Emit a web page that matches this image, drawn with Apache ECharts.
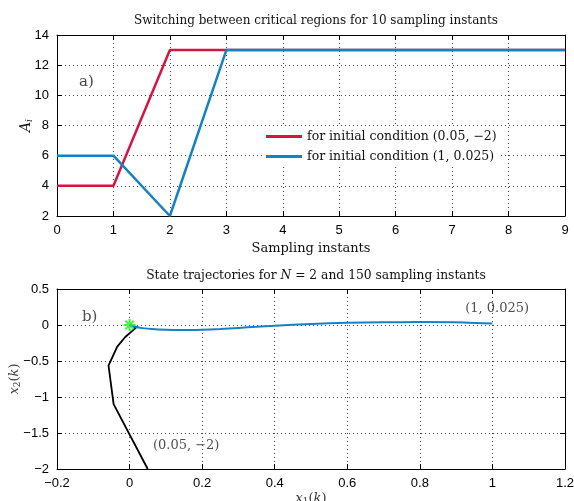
<!DOCTYPE html>
<html>
<head>
<meta charset="utf-8">
<script src="https://cdn.jsdelivr.net/npm/echarts@6/dist/echarts.min.js"></script>
<style>
  html, body { margin: 0; padding: 0; background: #fff; }
  #main { width: 574px; height: 501px; }
</style>
</head>
<body>
<div id="main"></div>
<script>
// top panel: region index per sampling instant
const steps = [0, 1, 2, 3, 4, 5, 6, 7, 8, 9];
const regionsA = [4, 4, 13, 13, 13, 13, 13, 13, 13, 13];   // (0.05, -2)
const regionsB = [6, 6, 2, 13, 13, 13, 13, 13, 13, 13];    // (1, 0.025)

// bottom panel: state trajectories
const x1A = [0.05, -0.044, -0.058, -0.034, -0.012, 0.018, 0];
const x2A = [-2, -1.1, -0.565, -0.30, -0.166, -0.037, 0];
const x1B = [1, 0.92, 0.8, 0.7, 0.6, 0.5, 0.4, 0.35, 0.3, 0.25, 0.2, 0.14, 0.1, 0.06, 0.03, 0.01, 0];
const x2B = [0.02, 0.035, 0.04, 0.038, 0.03, 0.015, -0.01, -0.025, -0.04, -0.055, -0.065, -0.07, -0.066, -0.055, -0.04, -0.015, 0];
const origin = [[0, 0]];

const serif = '"DejaVu Serif", "Liberation Serif", serif';
const sans = '"Liberation Sans", Arial, sans-serif';
const red = '#d4163f';
const blue = '#1580c4';

function zip(a, b) { return a.map((v, i) => [v, b[i]]); }
function fmt(v) { return String(+(+v).toFixed(2)).replace('-', '\u2212'); }

function mainAxis(grid, extra) {
  return Object.assign({
    type: 'value', gridIndex: grid,
    axisLine: { onZero: false, lineStyle: { color: '#000', width: 1 } },
    axisTick: { inside: true, length: 5, lineStyle: { color: '#000' } },
    axisLabel: { color: '#000', fontFamily: sans, fontSize: 13, formatter: fmt },
    splitLine: { show: true, lineStyle: { color: '#444', type: [1, 3], width: 1 } }
  }, extra);
}
function mirrorAxis(grid, pos, extra) {
  return Object.assign({
    type: 'value', gridIndex: grid, position: pos,
    axisLine: { onZero: false, lineStyle: { color: '#000', width: 1 } },
    axisTick: { inside: true, length: 5, lineStyle: { color: '#000' } },
    axisLabel: { show: false },
    splitLine: { show: false }
  }, extra);
}

const xTop = { min: 0, max: 9, interval: 1 };
const yTop = { min: 2, max: 14, interval: 2 };
const xBot = { min: -0.2, max: 1.2, interval: 0.2 };
const yBot = { min: -2, max: 0.5, interval: 0.5 };

const chart = echarts.init(document.getElementById('main'), null, { renderer: 'canvas' });

chart.setOption({
  animation: false,
  backgroundColor: '#fff',
  title: [
    { text: 'Switching between critical regions for 10 sampling instants', left: 311, textAlign: 'center', top: 10,
      textStyle: { fontFamily: serif, fontSize: 12, fontWeight: 'normal', color: '#111' } },
    { text: 'State trajectories for {i|N} = 2 and 150 sampling instants', left: 311, textAlign: 'center', top: 265,
      textStyle: { fontFamily: serif, fontSize: 12.3, fontWeight: 'normal', color: '#111',
        rich: { i: { fontFamily: serif, fontSize: 12.3, fontStyle: 'italic', color: '#111' } } } }
  ],
  grid: [
    { left: 57, top: 35, width: 508, height: 181, outerBoundsMode: 'none', containLabel: false },
    { left: 57, top: 289, width: 508, height: 180, outerBoundsMode: 'none', containLabel: false }
  ],
  legend: {
    data: ['for initial condition (0.05, \u22122)', 'for initial condition (1, 0.025)'],
    orient: 'vertical', left: 262, top: 127,
    icon: 'rect', itemWidth: 36, itemHeight: 3, itemGap: 5,
    backgroundColor: '#fff', padding: [2, 4, 2, 4],
    textStyle: { fontFamily: serif, fontSize: 12.5, color: '#111', lineHeight: 15 }
  },
  xAxis: [
    mainAxis(0, Object.assign({ name: 'Sampling instants', nameLocation: 'middle', nameGap: 26,
      nameTextStyle: { fontFamily: serif, fontSize: 13, color: '#111' } }, xTop)),
    mirrorAxis(0, 'top', xTop),
    mainAxis(1, Object.assign({ name: '{i|x}{s|1}{n|(}{i|k}{n|)}', nameLocation: 'middle', nameGap: 22,
      nameTextStyle: { fontFamily: serif, fontSize: 13, color: '#333',
        rich: { i: { fontFamily: serif, fontStyle: 'italic', fontSize: 13, color: '#333' },
                s: { fontFamily: serif, fontSize: 9, color: '#333', verticalAlign: 'bottom', padding: [6, 0, 0, 0] },
                n: { fontFamily: serif, fontSize: 13, color: '#333' } } } }, xBot)),
    mirrorAxis(1, 'top', xBot)
  ],
  yAxis: [
    mainAxis(0, Object.assign({ name: '{a|A}{s|i}', nameLocation: 'middle', nameGap: 23, nameMoveOverlap: false,
      nameTextStyle: { rich: { a: { fontFamily: serif, fontStyle: 'italic', fontSize: 14, color: '#111' },
        s: { fontFamily: serif, fontStyle: 'italic', fontSize: 9, color: '#111', padding: [6, 0, 0, 0] } } } }, yTop)),
    mirrorAxis(0, 'right', yTop),
    mainAxis(1, Object.assign({ name: '{i|x}{s|2}{n|(}{i|k}{n|)}', nameLocation: 'middle', nameGap: 35, nameMoveOverlap: false,
      nameTextStyle: { rich: { i: { fontFamily: serif, fontStyle: 'italic', fontSize: 13, color: '#444' },
        s: { fontFamily: serif, fontSize: 9, color: '#444', padding: [6, 0, 0, 0] },
        n: { fontFamily: serif, fontSize: 13, color: '#444' } } } }, yBot)),
    mirrorAxis(1, 'right', yBot)
  ],
  series: [
    { name: 'for initial condition (0.05, \u22122)', type: 'line', xAxisIndex: 0, yAxisIndex: 0,
      data: zip(steps, regionsA), showSymbol: false, symbol: 'none',
      lineStyle: { color: red, width: 2.5 }, itemStyle: { color: red }, z: 3 },
    { name: 'for initial condition (1, 0.025)', type: 'line', xAxisIndex: 0, yAxisIndex: 0,
      data: zip(steps, regionsB), showSymbol: false, symbol: 'none',
      lineStyle: { color: blue, width: 2.5 }, itemStyle: { color: blue }, z: 4 },
    { type: 'scatter', xAxisIndex: 0, yAxisIndex: 0, symbolSize: 0, silent: true,
      data: [[0.52, 10.9]],
      label: { show: true, position: 'inside', formatter: 'a)', fontFamily: serif, fontSize: 15, color: '#111' } },

    { type: 'line', xAxisIndex: 2, yAxisIndex: 2, data: zip(x1A, x2A), symbol: 'none',
      lineStyle: { color: '#000', width: 1.8 }, z: 3 },
    { type: 'line', xAxisIndex: 2, yAxisIndex: 2, data: zip(x1B, x2B), symbol: 'none', smooth: 0.3,
      lineStyle: { color: blue, width: 2 }, z: 4 },
    { type: 'scatter', xAxisIndex: 2, yAxisIndex: 2, data: origin,
      symbol: 'path://M0,-6L0,6M-6,0L6,0M-4.2,-4.2L4.2,4.2M-4.2,4.2L4.2,-4.2', symbolSize: 12,
      itemStyle: { color: '#22ee22', borderColor: '#22ee22', borderWidth: 2.2 }, z: 5 },
    { type: 'scatter', xAxisIndex: 2, yAxisIndex: 2, symbolSize: 0, silent: true,
      data: [
        { value: [-0.11, 0.11], label: { formatter: 'b)', fontSize: 15 } },
        { value: [1.013, 0.23], label: { formatter: '(1, 0.025)' } },
        { value: [0.156, -1.67], label: { formatter: '(0.05, \u22122)' } }
      ],
      label: { show: true, position: 'inside', fontFamily: serif, fontSize: 13, color: '#222' } }
  ]
});
</script>
</body>
</html>
